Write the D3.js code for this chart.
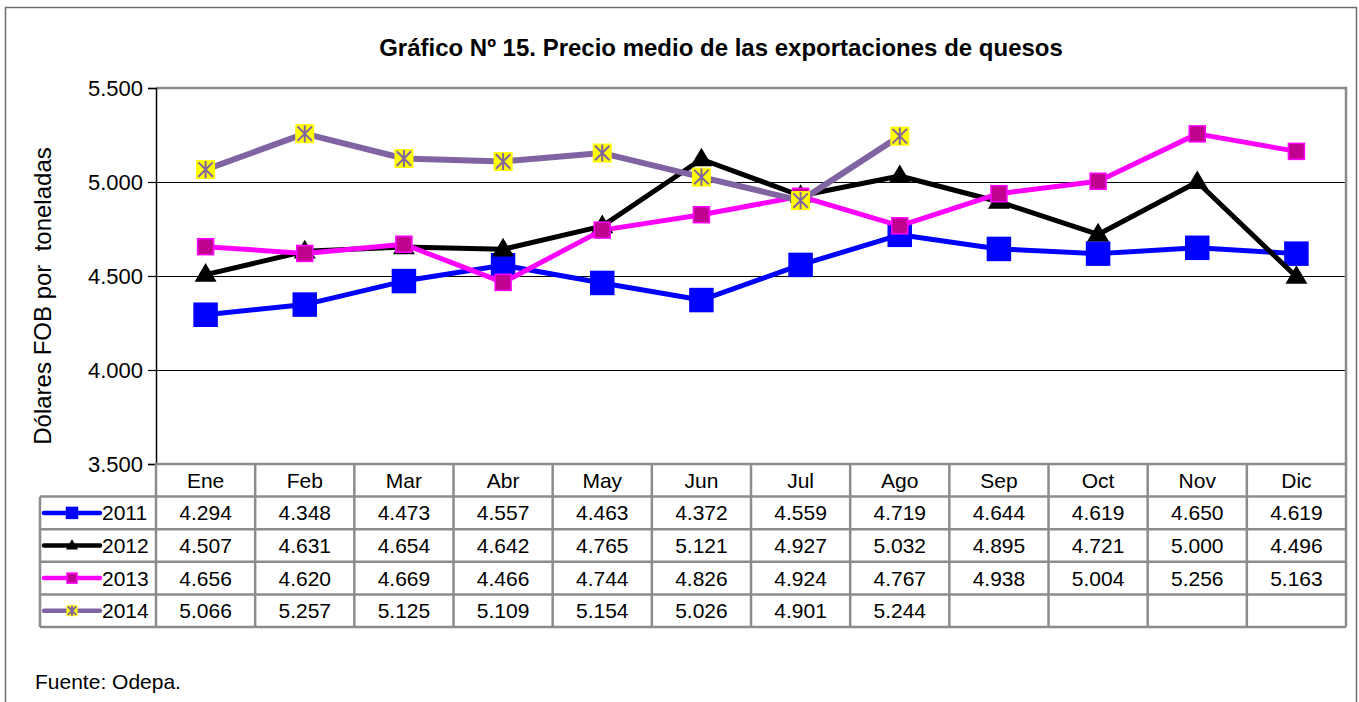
<!DOCTYPE html>
<html>
<head>
<meta charset="utf-8">
<script src="https://cdn.jsdelivr.net/npm/d3@7"></script>
<style>
html,body{margin:0;padding:0;background:#fff;}
svg{display:block;font-family:"Liberation Sans",Arial,sans-serif;}
</style>
</head>
<body>
<svg id="chart" width="1359" height="702"></svg>
<script>
const months = ["Ene","Feb","Mar","Abr","May","Jun","Jul","Ago","Sep","Oct","Nov","Dic"];
const years = ["2011","2012","2013","2014"];
const v2011 = [4294,4348,4473,4557,4463,4372,4559,4719,4644,4619,4650,4619];
const v2012 = [4507,4631,4654,4642,4765,5121,4927,5032,4895,4721,5000,4496];
const v2013 = [4656,4620,4669,4466,4744,4826,4924,4767,4938,5004,5256,5163];
const v2014 = [5066,5257,5125,5109,5154,5026,4901,5244,null,null,null,null];
const yTicks = [3500,4000,4500,5000,5500];
const titleText = "Gráfico Nº 15. Precio medio de las exportaciones de quesos";
const yLabel = "Dólares FOB por  toneladas";
const sourceText = "Fuente: Odepa.";

const seriesData = [v2011, v2012, v2013, v2014];
const styles = [
  {line:"#0000FF", w:5, marker:"square", size:23, fill:"#0000FF", stroke:"#0000FF", lsize:11},
  {line:"#000000", w:5, marker:"triangle", size:22, fill:"#000000", stroke:"#000000", lsize:12},
  {line:"#FF00FF", w:5, marker:"square", size:16, fill:"#C0008F", stroke:"#FF00FF", lsize:10},
  {line:"#8064A2", w:6, marker:"star", size:19, fill:"#FFFF00", stroke:"#8064A2", lsize:11}
];

const loc = d3.formatLocale({decimal:",", thousands:".", grouping:[3], currency:["$",""]});
const fmt = loc.format(",d");

const svg = d3.select("#chart");
const L = 156, R = 1346, T = 88, B = 464;
const rowH = 32.6, legL = 40;
const FS = 21;

const x = d3.scaleBand().domain(months).range([L, R]).padding(0);
const y = d3.scaleLinear().domain([3500, 5500]).range([B, T]);

// outer frame
svg.append("rect").attr("x",5.5).attr("y",7.5).attr("width",1351).attr("height",720)
  .attr("fill","none").attr("stroke","#6e6e6e").attr("stroke-width",1.5);

// title
svg.append("text").attr("x",721).attr("y",56).attr("text-anchor","middle")
  .attr("font-size",24).attr("font-weight","bold").attr("fill","#000").text(titleText);

// gridlines
svg.append("g").selectAll("line").data(yTicks.filter(t=>t>3500 && t<5500)).join("line")
  .attr("x1",L).attr("x2",R).attr("y1",d=>Math.round(y(d))+0.5).attr("y2",d=>Math.round(y(d))+0.5)
  .attr("stroke","#000").attr("stroke-width",1.2);

// plot border (top/right)
svg.append("path").attr("d",`M${L},${T}H${R}V${B}`).attr("fill","none")
  .attr("stroke","#8c8c8c").attr("stroke-width",2.5);

// y axis
const yAxis = d3.axisLeft(y).tickValues(yTicks).tickFormat(fmt).tickSize(8).tickPadding(5);
const gy = svg.append("g").attr("transform",`translate(${L},0)`).call(yAxis);
gy.select(".domain").attr("stroke","#000").attr("stroke-width",1.5);
gy.selectAll(".tick line").attr("stroke","#000").attr("stroke-width",1.2);
gy.selectAll(".tick text").attr("font-size",22).attr("fill","#000")
  .attr("font-family","'Liberation Sans',Arial,sans-serif");

// y label
svg.append("text").attr("transform","translate(51,296) rotate(-90)").attr("text-anchor","middle")
  .attr("font-size",24).attr("fill","#000").attr("xml:space","preserve").style("white-space","pre").text(yLabel);

// table
const tg = svg.append("g");
const tableBottom = B + rowH*5;
const gray = "#8c8c8c";
for (let i=0;i<=5;i++){
  const yy = B + rowH*i;
  tg.append("line").attr("x1", i===0 ? L : legL).attr("x2",R).attr("y1",yy).attr("y2",yy)
    .attr("stroke",gray).attr("stroke-width",2.5);
}
months.forEach(m=>{
  tg.append("line").attr("x1",x(m)).attr("x2",x(m)).attr("y1",B).attr("y2",tableBottom)
    .attr("stroke",gray).attr("stroke-width",2.5);
});
tg.append("line").attr("x1",R).attr("x2",R).attr("y1",B).attr("y2",tableBottom).attr("stroke",gray).attr("stroke-width",2.5);
tg.append("line").attr("x1",legL).attr("x2",legL).attr("y1",B+rowH).attr("y2",tableBottom).attr("stroke",gray).attr("stroke-width",2.5);

// header months
tg.selectAll("text.mon").data(months).join("text").attr("class","mon")
  .attr("x",d=>x(d)+x.bandwidth()/2).attr("y",B+rowH/2+7.5).attr("text-anchor","middle")
  .attr("font-size",FS).attr("fill","#000").text(d=>d);

function drawMarker(g, type, cx, cy, s, st){
  if (type==="square"){
    g.append("rect").attr("x",cx-s/2).attr("y",cy-s/2).attr("width",s).attr("height",s)
      .attr("fill",st.fill).attr("stroke",st.stroke).attr("stroke-width",1.5);
  } else if (type==="triangle"){
    const h = s*0.85;
    g.append("path").attr("d",`M${cx},${cy-h*0.62}L${cx+s/2},${cy+h*0.38}L${cx-s/2},${cy+h*0.38}Z`)
      .attr("fill",st.fill);
  } else {
    g.append("rect").attr("x",cx-s/2).attr("y",cy-s/2).attr("width",s).attr("height",s).attr("fill",st.fill);
    const a = s*0.38;
    g.append("path").attr("d",`M${cx-a},${cy-a}L${cx+a},${cy+a}M${cx+a},${cy-a}L${cx-a},${cy+a}M${cx},${cy-s*0.45}L${cx},${cy+s*0.45}`)
      .attr("stroke",st.stroke).attr("stroke-width",2).attr("fill","none");
  }
}

// data rows
years.forEach((yr,i)=>{
  const rowY = B + rowH*(i+1);
  const cy = rowY + rowH/2;
  const st = styles[i];
  tg.append("line").attr("x1",44).attr("x2",100).attr("y1",cy).attr("y2",cy)
    .attr("stroke",st.line).attr("stroke-width",4.5).attr("stroke-linecap","round");
  drawMarker(tg, st.marker, 72, cy, st.lsize, st);
  tg.append("text").attr("x",102).attr("y",cy+7.5).attr("font-size",FS).attr("fill","#000").text(yr);
  seriesData[i].forEach((v,j)=>{
    if (v==null) return;
    tg.append("text").attr("x",x(months[j])+x.bandwidth()/2).attr("y",cy+7.5).attr("text-anchor","middle")
      .attr("font-size",FS).attr("fill","#000").text(fmt(v));
  });
});

// series lines + markers
seriesData.forEach((vals,i)=>{
  const st = styles[i];
  const pts = vals.map((v,j)=>({m:months[j], v})).filter(d=>d.v!=null);
  const line = d3.line().x(d=>x(d.m)+x.bandwidth()/2).y(d=>y(d.v));
  const g = svg.append("g");
  g.append("path").attr("d",line(pts)).attr("fill","none").attr("stroke",st.line)
    .attr("stroke-width",st.w).attr("stroke-linejoin","round");
  pts.forEach(d=>drawMarker(g, st.marker, x(d.m)+x.bandwidth()/2, y(d.v), st.size, st));
});

// source
svg.append("text").attr("x",35).attr("y",689).attr("font-size",21).attr("fill","#000").text(sourceText);
</script>
</body>
</html>
